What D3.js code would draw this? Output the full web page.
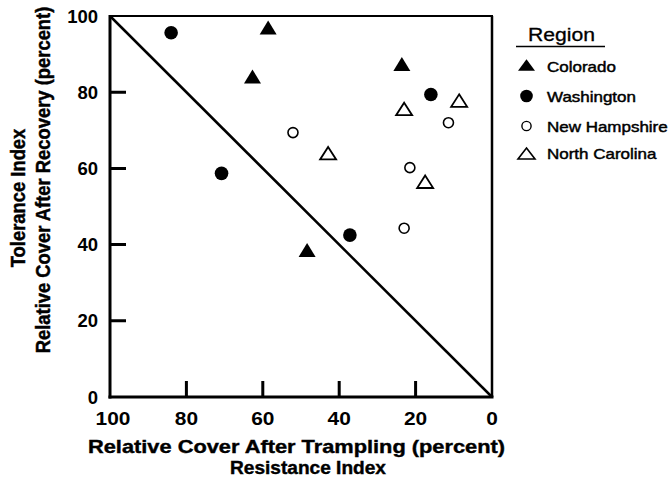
<!DOCTYPE html>
<html><head><meta charset="utf-8">
<script src="https://cdn.jsdelivr.net/npm/d3@7"></script>
<style>body{margin:0;background:#fff}text{font-family:"Liberation Sans",Arial,sans-serif;fill:#000}</style>
</head><body><svg id="c" width="671" height="484"></svg>
<script>
const regions = ["Colorado","Washington","New Hampshire","North Carolina"];
const colorado = [[58.6,97.0],[62.7,84.1],[23.6,87.4],[48.4,38.6]];
const washington = [[84.0,95.6],[70.8,58.7],[16.0,79.4],[37.2,42.5]];
const newHampshire = [[52.1,69.4],[11.4,72.0],[21.5,60.2],[23.0,44.3]];
const northCarolina = [[42.9,64.0],[23.0,75.6],[8.6,77.8],[17.5,56.5]];
const ticks = [0,20,40,60,80,100];
const diagonal = [[100,100],[0,0]];

const svg = d3.select("#c");
const L=110,R=492,T=16,B=397,TL=16;
const x = d3.scaleLinear().domain([100,0]).range([L,R]);
const y = d3.scaleLinear().domain([0,100]).range([B,T]);

function stretch(sel, w){
  sel.attr("textLength", w).attr("lengthAdjust","spacingAndGlyphs");
  return sel;
}
function stretchBy(sel, f){
  sel.each(function(){ const n=this.getComputedTextLength(); d3.select(this).attr("textLength", n*f).attr("lengthAdjust","spacingAndGlyphs"); });
  return sel;
}

// frame
svg.append("line").attr("x1",L).attr("x2",R+1).attr("y1",T).attr("y2",T).attr("stroke","#000").attr("stroke-width",2);
svg.append("line").attr("x1",R).attr("x2",R).attr("y1",T).attr("y2",B).attr("stroke","#000").attr("stroke-width",2.5);
svg.append("line").attr("x1",L).attr("x2",L).attr("y1",T-1).attr("y2",B+1.5).attr("stroke","#000").attr("stroke-width",3);
svg.append("line").attr("x1",L-1.5).attr("x2",R+1.5).attr("y1",B).attr("y2",B).attr("stroke","#000").attr("stroke-width",3);

// tick labels
const xl = svg.selectAll(".xl").data(ticks).enter().append("text")
  .attr("x",d=>x(d)+(d===100?3:0)).attr("y",425).attr("text-anchor","middle")
  .style("font-size","18.5px").style("font-weight","bold").text(d=>d);
stretchBy(xl,1.13);
svg.selectAll(".yl").data(ticks).enter().append("text")
  .attr("x",98).attr("y",d=>y(d)).attr("dy","0.36em").attr("text-anchor","end")
  .style("font-size","18.5px").style("font-weight","bold").text(d=>d);

svg.append("line").attr("x1",x(diagonal[0][0])).attr("y1",y(diagonal[0][1]))
  .attr("x2",x(diagonal[1][0])).attr("y2",y(diagonal[1][1])).attr("stroke","#000").attr("stroke-width",2.5);

function triPath(w,h){
  return `M0,${-h/2}L${w/2},${h/2}L${-w/2},${h/2}Z`;
}
function drawSet(data, kind, g){
  const sel = g.selectAll(null).data(data).enter();
  if(kind==="ftri") sel.append("path").attr("d",triPath(17,14)).attr("transform",d=>`translate(${x(d[0])},${y(d[1])})`).attr("fill","#000");
  if(kind==="otri") sel.append("path").attr("d",triPath(16,12.5)).attr("transform",d=>`translate(${x(d[0])},${y(d[1])})`).attr("fill","#fff").attr("stroke","#000").attr("stroke-width",1.8);
  if(kind==="fcir") sel.append("circle").attr("cx",d=>x(d[0])).attr("cy",d=>y(d[1])).attr("r",6.8).attr("fill","#000");
  if(kind==="ocir") sel.append("circle").attr("cx",d=>x(d[0])).attr("cy",d=>y(d[1])).attr("r",5).attr("fill","#fff").attr("stroke","#000").attr("stroke-width",1.6);
}
const pg = svg.append("g");
drawSet(colorado,"ftri",pg);
drawSet(washington,"fcir",pg);
drawSet(newHampshire,"ocir",pg);
drawSet(northCarolina,"otri",pg);

// legend
const lg = svg.append("g");
stretch(lg.append("text").attr("x",561.5).attr("y",41).attr("text-anchor","middle").style("font-size","18px").attr("stroke","#000").attr("stroke-width",0.3).text("Region"),67);
lg.append("line").attr("x1",516).attr("x2",605).attr("y1",46.5).attr("y2",46.5).attr("stroke","#000").attr("stroke-width",1.3);
const kinds=["ftri","fcir","ocir","otri"];
const markY=[65,96,126,153.5], textY=[71.5,101.5,131.5,159];
regions.forEach((r,i)=>{
  const g = lg.append("g").attr("transform",`translate(526.5,${markY[i]})`);
  if(kinds[i]==="ftri") g.append("path").attr("d",triPath(17,11.5)).attr("fill","#000");
  if(kinds[i]==="fcir") g.append("circle").attr("r",6.3).attr("fill","#000");
  if(kinds[i]==="ocir") g.append("circle").attr("r",4.6).attr("fill","#fff").attr("stroke","#000").attr("stroke-width",1.4);
  if(kinds[i]==="otri") g.append("path").attr("d",triPath(17,11)).attr("fill","#fff").attr("stroke","#000").attr("stroke-width",1.6);
  stretchBy(lg.append("text").attr("x",547).attr("y",textY[i]).style("font-size","14.5px").attr("stroke","#000").attr("stroke-width",0.45).text(r),1.17);
});

// axis titles
stretch(svg.append("text").attr("x",296.5).attr("y",453).attr("text-anchor","middle").style("font-size","18.5px").style("font-weight","bold").attr("stroke","#000").attr("stroke-width",0.4).text("Relative Cover After Trampling (percent)"),417);
stretch(svg.append("text").attr("x",308).attr("y",474).attr("text-anchor","middle").style("font-size","18px").style("font-weight","bold").attr("stroke","#000").attr("stroke-width",0.4).text("Resistance Index"),156);
svg.append("text").attr("transform","translate(25,198) rotate(-90) scale(1,1.12)").attr("text-anchor","middle").style("font-size","18.4px").style("font-weight","bold").attr("stroke","#000").attr("stroke-width",0.4).text("Tolerance Index");
svg.append("text").attr("transform","translate(50,180) rotate(-90) scale(1,1.12)").attr("text-anchor","middle").style("font-size","18.4px").style("font-weight","bold").attr("stroke","#000").attr("stroke-width",0.4).text("Relative Cover After Recovery (percent)");

// inward tick marks, one path, drawn last
const inner = ticks.filter(t=>t>0&&t<100);
let dstr = "";
inner.forEach(t=>{
  dstr += `M${x(t)},${B}V${B-TL}`;
  dstr += `M${L},${y(t)}H${L+TL}`;
});
svg.append("path").attr("d",dstr).attr("fill","none").attr("stroke","#000").attr("stroke-width",3);
</script></body></html>
